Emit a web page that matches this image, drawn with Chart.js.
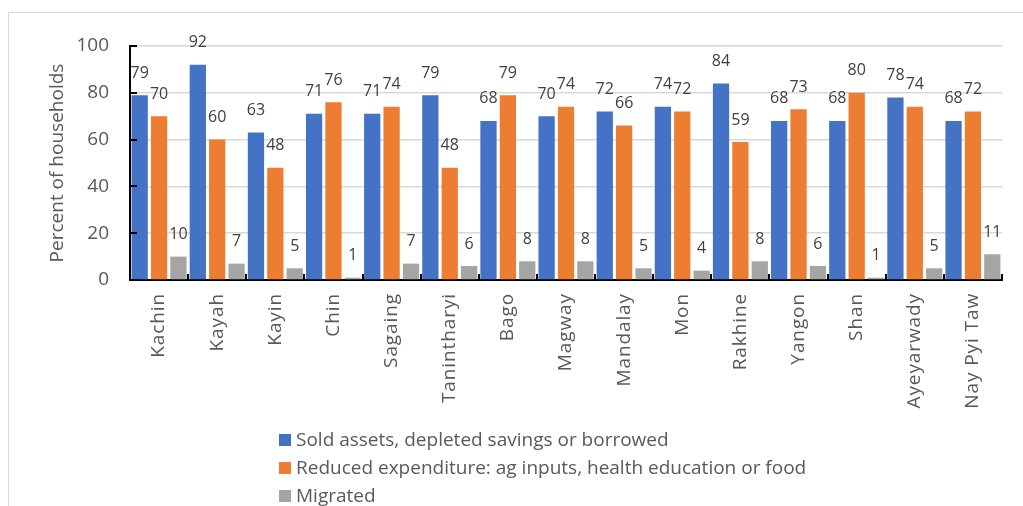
<!DOCTYPE html>
<html>
<head>
<meta charset="utf-8">
<script src="https://cdn.jsdelivr.net/npm/chart.js@4"></script>
<style>
  html, body { margin: 0; padding: 0; background: #fff; overflow: hidden; }
  #frame { position: absolute; left: 8px; top: 12px; width: 1100px; height: 600px;
           border-left: 1px solid #d9d9d9; border-top: 1px solid #d9d9d9; }
  #chart { position: absolute; left: 0; top: 0; }
</style>
</head>
<body>
<div id="frame"></div>
<canvas id="chart" width="1023" height="506"></canvas>
<script>
const regions = ["Kachin", "Kayah", "Kayin", "Chin", "Sagaing", "Tanintharyi", "Bago", "Magway",
                 "Mandalay", "Mon", "Rakhine", "Yangon", "Shan", "Ayeyarwady", "Nay Pyi Taw"];
const soldAssets = [79, 92, 63, 71, 71, 79, 68, 70, 72, 74, 84, 68, 68, 78, 68];
const reducedSpend = [70, 60, 48, 76, 74, 48, 79, 74, 66, 72, 59, 73, 80, 74, 72];
const migrated = [10, 7, 5, 1, 7, 6, 8, 8, 5, 4, 8, 6, 1, 5, 11];
const yTicks = [0, 20, 40, 60, 80, 100];

const seriesNames = [
    "Sold assets, depleted savings or borrowed",
    "Reduced expenditure: ag inputs, health education or food",
    "Migrated"
];
const colors = ["#4472C4", "#ED7D31", "#A5A5A5"];
const textColor = "#595959";
const fontFam = "'Open Sans', 'Noto Sans', sans-serif";

// value labels over each bar
const barLabels = {
    id: 'barLabels',
    afterDatasetsDraw(chart) {
        const ctx = chart.ctx;
        ctx.save();
        ctx.font = "16px " + fontFam;
        ctx.fillStyle = "#404040";
        ctx.textAlign = "center";
        ctx.textBaseline = "middle";
        chart.data.datasets.forEach((ds, i) => {
            chart.getDatasetMeta(i).data.forEach((bar, j) => {
                ctx.fillText(Math.round(ds.data[j]), bar.x, bar.y - 22);
            });
        });
        ctx.restore();
    }
};

// the category labels are a bit letter-spaced in the original
const spacedXLabels = {
    id: 'spacedXLabels',
    beforeDraw(chart) {
        const s = chart.scales.x;
        if (s._spaced) return;
        const orig = s.drawLabels.bind(s);
        s.drawLabels = function (area) {
            const c = this.ctx;
            c.save();
            c.letterSpacing = "0.9px";
            orig(area);
            c.restore();
        };
        s._spaced = true;
    }
};

// inside tick marks like the original
const insideTicks = {
    id: 'insideTicks',
    afterDraw(chart) {
        const ctx = chart.ctx;
        const a = chart.chartArea;
        const y = chart.scales.y, x = chart.scales.x;
        ctx.save();
        ctx.strokeStyle = "#000";
        ctx.lineWidth = 2;
        ctx.beginPath();
        y.ticks.forEach((t, i) => {
            const py = Math.round(y.getPixelForTick(i));
            ctx.moveTo(a.left, py);
            ctx.lineTo(a.left + 7, py);
        });
        const n = regions.length;
        for (let i = 1; i <= n; i++) {
            const px = Math.round(x.left + i * x.width / n);
            ctx.moveTo(px, a.bottom);
            ctx.lineTo(px, a.bottom - 6);
        }
        ctx.stroke();
        ctx.restore();
    }
};

// stacked legend below the axis labels
const stackedLegend = {
    id: 'stackedLegend',
    afterDraw(chart) {
        const ctx = chart.ctx;
        ctx.save();
        ctx.font = "19px " + fontFam;
        ctx.textBaseline = "middle";
        chart.data.datasets.forEach((ds, i) => {
            const cy = 440 + i * 28;
            ctx.fillStyle = ds.backgroundColor;
            ctx.fillRect(279, cy - 6, 12, 12);
            ctx.fillStyle = textColor;
            ctx.fillText(ds.label, 296, cy + 1);
        });
        ctx.restore();
    }
};

new Chart(document.getElementById('chart'), {
    type: 'bar',
    data: {
        labels: regions,
        datasets: [
            { label: seriesNames[0], data: soldAssets, backgroundColor: colors[0] },
            { label: seriesNames[1], data: reducedSpend, backgroundColor: colors[1] },
            { label: seriesNames[2], data: migrated, backgroundColor: colors[2] }
        ]
    },
    options: {
        responsive: false,
        animation: false,
        datasets: { bar: { categoryPercentage: 1.0, barPercentage: 0.84 } },
        layout: { autoPadding: false, padding: { left: 46, top: 46, right: 21, bottom: 86 } },
        plugins: {
            legend: { display: false },
            tooltip: { enabled: false }
        },
        scales: {
            x: {
                afterFit: s => { s.height = 140; },
                grid: { display: false, drawTicks: false },
                border: { display: true, color: "#000", width: 2 },
                ticks: {
                    minRotation: 90, maxRotation: 90, padding: 13, autoSkip: false,
                    color: textColor, font: { family: fontFam, size: 19 }
                }
            },
            y: {
                min: 0, max: 100,
                afterFit: s => { s.width = 84; },
                afterBuildTicks: s => { s.ticks = yTicks.map(v => ({ value: v })); },
                grid: { color: "#d9d9d9", lineWidth: 1.5, drawTicks: false },
                border: { display: true, color: "#000", width: 2 },
                ticks: { padding: 21, color: textColor, font: { family: fontFam, size: 19 } },
                title: {
                    display: true, text: "Percent of households", color: textColor,
                    font: { family: fontFam, size: 19 }, padding: { top: 0, bottom: 0 }
                }
            }
        }
    },
    plugins: [barLabels, spacedXLabels, insideTicks, stackedLegend]
});
</script>
</body>
</html>
